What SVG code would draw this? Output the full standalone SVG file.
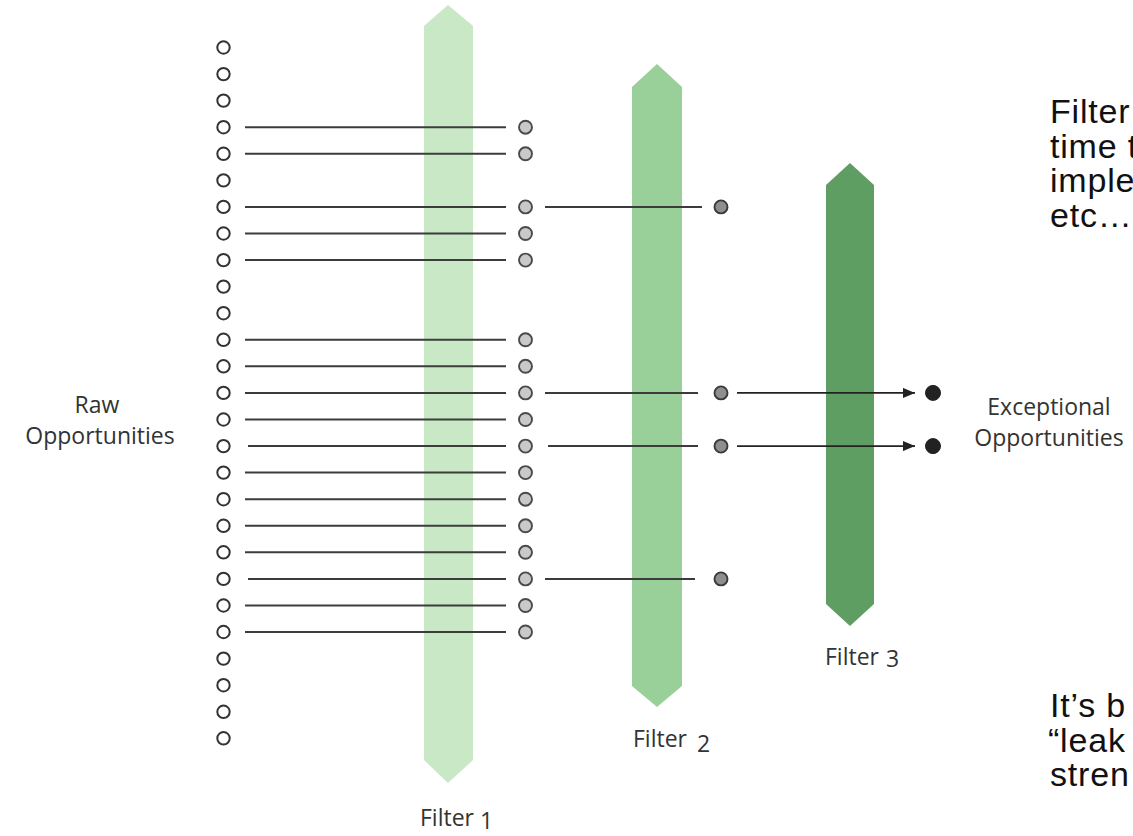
<svg xmlns="http://www.w3.org/2000/svg" width="1133" height="836" viewBox="0 0 1133 836">
  <style>
    .raw { fill: #ffffff; stroke: #333333; stroke-width: 2; }
    .pass1 { fill: #c9c9c9; stroke: #4a4a4a; stroke-width: 1.9; }
    .pass2 { fill: #8e8e8e; stroke: #3a3a3a; stroke-width: 1.9; }
    .final { fill: #222222; stroke: #222222; stroke-width: 1; }
    .link { stroke: #3c3c3c; stroke-width: 2; fill: none; }
    .arrow { stroke: #222222; stroke-width: 1.6; fill: none; marker-end: url(#head); }
    .label { font-family: "Open Sans", "DejaVu Sans", sans-serif; font-size: 23px; fill: #333333; }
    .mid { text-anchor: middle; }
    .note { font-family: "Liberation Sans", Arial, sans-serif; font-size: 34px; letter-spacing: 0.8px; fill: #111111; }
  </style>
  <defs>
    <marker id="head" viewBox="0 0 12 10" refX="12" refY="5" markerWidth="12" markerHeight="10" markerUnits="userSpaceOnUse" orient="auto">
      <path d="M0,0 L12,5 L0,10 Z" fill="#222222"/>
    </marker>
  </defs>

  <rect width="1133" height="836" fill="#ffffff"/>

  <!-- filter bands -->
  <g id="filter1">
    <polygon points="448,5 473,26 473,760 448,783 424,760 424,26" fill="#c8e8c6"/>
    <text class="label" x="420" y="826">Filter<tspan dx="6" dy="3">1</tspan></text>
  </g>
  <g id="filter2">
    <polygon points="657,64 682,87 682,686 657,707 632,686 632,87" fill="#99cf98"/>
    <text class="label" x="633" y="747">Filter<tspan dx="10" dy="5">2</tspan></text>
  </g>
  <g id="filter3">
    <polygon points="850,163 874,185 874,604 850,626 826,604 826,185" fill="#5f9e63"/>
    <text class="label" x="825" y="665">Filter<tspan dx="7" dy="2">3</tspan></text>
  </g>

  <!-- connectors -->
  <g id="connectors">
    <line class="link" x1="245" y1="127.2" x2="506" y2="127.2"/>
    <line class="link" x1="245" y1="153.8" x2="506" y2="153.8"/>
    <line class="link" x1="245" y1="206.9" x2="506" y2="206.9"/>
    <line class="link" x1="245" y1="233.5" x2="506" y2="233.5"/>
    <line class="link" x1="245" y1="260.1" x2="506" y2="260.1"/>
    <line class="link" x1="245" y1="339.8" x2="506" y2="339.8"/>
    <line class="link" x1="245" y1="366.3" x2="506" y2="366.3"/>
    <line class="link" x1="245" y1="392.9" x2="506" y2="392.9"/>
    <line class="link" x1="245" y1="419.5" x2="506" y2="419.5"/>
    <line class="link" x1="248" y1="446.1" x2="506" y2="446.1"/>
    <line class="link" x1="245" y1="472.6" x2="506" y2="472.6"/>
    <line class="link" x1="245" y1="499.2" x2="506" y2="499.2"/>
    <line class="link" x1="245" y1="525.8" x2="506" y2="525.8"/>
    <line class="link" x1="245" y1="552.3" x2="506" y2="552.3"/>
    <line class="link" x1="248" y1="578.9" x2="506" y2="578.9"/>
    <line class="link" x1="245" y1="605.5" x2="506" y2="605.5"/>
    <line class="link" x1="245" y1="632.0" x2="506" y2="632.0"/>

    <line class="link" x1="545" y1="206.9" x2="702" y2="206.9"/>
    <line class="link" x1="545" y1="392.9" x2="698" y2="392.9"/>
    <line class="link" x1="548" y1="446.1" x2="698" y2="446.1"/>
    <line class="link" x1="545" y1="578.9" x2="695" y2="578.9"/>

    <line class="arrow" x1="737" y1="392.9" x2="915" y2="392.9"/>
    <line class="arrow" x1="737" y1="446.1" x2="915" y2="446.1"/>
  </g>

  <!-- raw opportunities -->
  <g id="raw-00"><circle class="raw" cx="223.5" cy="47.5" r="6.2"/></g>
  <g id="raw-01"><circle class="raw" cx="223.5" cy="74.1" r="6.2"/></g>
  <g id="raw-02"><circle class="raw" cx="223.5" cy="100.6" r="6.2"/></g>
  <g id="raw-03"><circle class="raw" cx="223.5" cy="127.2" r="6.2"/></g>
  <g id="raw-04"><circle class="raw" cx="223.5" cy="153.8" r="6.2"/></g>
  <g id="raw-05"><circle class="raw" cx="223.5" cy="180.4" r="6.2"/></g>
  <g id="raw-06"><circle class="raw" cx="223.5" cy="206.9" r="6.2"/></g>
  <g id="raw-07"><circle class="raw" cx="223.5" cy="233.5" r="6.2"/></g>
  <g id="raw-08"><circle class="raw" cx="223.5" cy="260.1" r="6.2"/></g>
  <g id="raw-09"><circle class="raw" cx="223.5" cy="286.6" r="6.2"/></g>
  <g id="raw-10"><circle class="raw" cx="223.5" cy="313.2" r="6.2"/></g>
  <g id="raw-11"><circle class="raw" cx="223.5" cy="339.8" r="6.2"/></g>
  <g id="raw-12"><circle class="raw" cx="223.5" cy="366.3" r="6.2"/></g>
  <g id="raw-13"><circle class="raw" cx="223.5" cy="392.9" r="6.2"/></g>
  <g id="raw-14"><circle class="raw" cx="223.5" cy="419.5" r="6.2"/></g>
  <g id="raw-15"><circle class="raw" cx="223.5" cy="446.1" r="6.2"/></g>
  <g id="raw-16"><circle class="raw" cx="223.5" cy="472.6" r="6.2"/></g>
  <g id="raw-17"><circle class="raw" cx="223.5" cy="499.2" r="6.2"/></g>
  <g id="raw-18"><circle class="raw" cx="223.5" cy="525.8" r="6.2"/></g>
  <g id="raw-19"><circle class="raw" cx="223.5" cy="552.3" r="6.2"/></g>
  <g id="raw-20"><circle class="raw" cx="223.5" cy="578.9" r="6.2"/></g>
  <g id="raw-21"><circle class="raw" cx="223.5" cy="605.5" r="6.2"/></g>
  <g id="raw-22"><circle class="raw" cx="223.5" cy="632.0" r="6.2"/></g>
  <g id="raw-23"><circle class="raw" cx="223.5" cy="658.6" r="6.2"/></g>
  <g id="raw-24"><circle class="raw" cx="223.5" cy="685.2" r="6.2"/></g>
  <g id="raw-25"><circle class="raw" cx="223.5" cy="711.8" r="6.2"/></g>
  <g id="raw-26"><circle class="raw" cx="223.5" cy="738.3" r="6.2"/></g>

  <!-- passed filter 1 -->
  <g id="pass1-03"><circle class="pass1" cx="525.5" cy="127.2" r="6.5"/></g>
  <g id="pass1-04"><circle class="pass1" cx="525.5" cy="153.8" r="6.5"/></g>
  <g id="pass1-06"><circle class="pass1" cx="525.5" cy="206.9" r="6.5"/></g>
  <g id="pass1-07"><circle class="pass1" cx="525.5" cy="233.5" r="6.5"/></g>
  <g id="pass1-08"><circle class="pass1" cx="525.5" cy="260.1" r="6.5"/></g>
  <g id="pass1-11"><circle class="pass1" cx="525.5" cy="339.8" r="6.5"/></g>
  <g id="pass1-12"><circle class="pass1" cx="525.5" cy="366.3" r="6.5"/></g>
  <g id="pass1-13"><circle class="pass1" cx="525.5" cy="392.9" r="6.5"/></g>
  <g id="pass1-14"><circle class="pass1" cx="525.5" cy="419.5" r="6.5"/></g>
  <g id="pass1-15"><circle class="pass1" cx="525.5" cy="446.1" r="6.5"/></g>
  <g id="pass1-16"><circle class="pass1" cx="525.5" cy="472.6" r="6.5"/></g>
  <g id="pass1-17"><circle class="pass1" cx="525.5" cy="499.2" r="6.5"/></g>
  <g id="pass1-18"><circle class="pass1" cx="525.5" cy="525.8" r="6.5"/></g>
  <g id="pass1-19"><circle class="pass1" cx="525.5" cy="552.3" r="6.5"/></g>
  <g id="pass1-20"><circle class="pass1" cx="525.5" cy="578.9" r="6.5"/></g>
  <g id="pass1-21"><circle class="pass1" cx="525.5" cy="605.5" r="6.5"/></g>
  <g id="pass1-22"><circle class="pass1" cx="525.5" cy="632.0" r="6.5"/></g>

  <!-- passed filter 2 -->
  <g id="pass2-06"><circle class="pass2" cx="721" cy="206.9" r="6.5"/></g>
  <g id="pass2-13"><circle class="pass2" cx="721" cy="392.9" r="6.5"/></g>
  <g id="pass2-15"><circle class="pass2" cx="721" cy="446.1" r="6.5"/></g>
  <g id="pass2-20"><circle class="pass2" cx="721" cy="578.9" r="6.5"/></g>

  <!-- exceptional opportunities -->
  <g id="final-13"><circle class="final" cx="933" cy="392.9" r="7.5"/></g>
  <g id="final-15"><circle class="final" cx="933" cy="446.1" r="7.5"/></g>

  <!-- captions -->
  <g id="raw-label">
    <text class="label mid" x="97" y="413">Raw</text>
    <text class="label mid" x="100" y="444">Opportunities</text>
  </g>
  <g id="exceptional-label">
    <text class="label mid" x="1049" y="415">Exceptional</text>
    <text class="label mid" x="1049" y="446">Opportunities</text>
  </g>

  <g id="note-top">
    <text class="note" x="1050" y="123">Filter</text>
    <text class="note" x="1050" y="157.5">time t</text>
    <text class="note" x="1050" y="192">imple</text>
    <text class="note" x="1050" y="226.5" letter-spacing="0">etc….</text>
  </g>
  <g id="note-bottom">
    <text class="note" x="1050" y="717">It’s b</text>
    <text class="note" x="1048" y="751.5">“leak</text>
    <text class="note" x="1050" y="786">stren</text>
  </g>
</svg>
